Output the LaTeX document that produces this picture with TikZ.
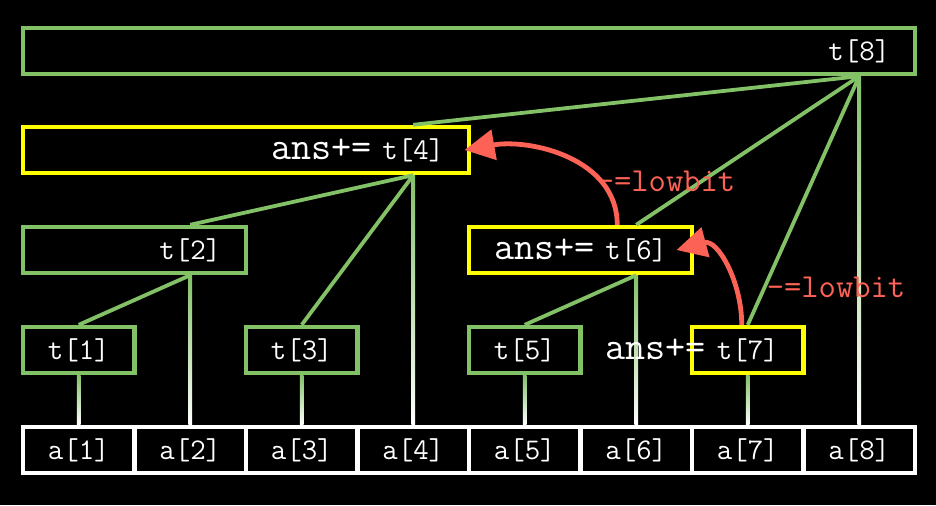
\documentclass[tikz,border=0pt]{standalone}
\usepackage{tikz}
\usetikzlibrary{arrows.meta,calc}
\definecolor{linecol}{HTML}{83C167}
\definecolor{askcol}{HTML}{FFFF00}
\definecolor{bitcol}{HTML}{FC6255}

\begin{document}
\begin{tikzpicture}[x=0.5pt,y=0.5pt,
    cell/.style={draw=white, line width=2.2pt, minimum width=55.75pt, minimum height=23pt, inner sep=0pt, text=white, font=\fontsize{15}{17}\selectfont\ttfamily},
    tbox/.style={draw=linecol, line width=2.2pt, minimum height=23pt, inner sep=0pt},
    qbox/.style={draw=askcol, line width=2.2pt, minimum height=23pt, inner sep=0pt},
    idx/.style={inner sep=0pt, text=white, font=\fontsize{15}{17}\selectfont\ttfamily},
    ans/.style={anchor=base east, inner sep=0pt, text=white, font=\fontsize{19.5}{22}\selectfont\ttfamily},
    link/.style={linecol, line width=1.9pt},
    leaf/.style={top color=linecol, bottom color=white},
    jump/.style={bitcol, line width=2.4pt, -{Triangle[length=15pt,width=15pt]}},
    bit/.style={text=bitcol, font=\fontsize{16.8}{19}\selectfont\ttfamily}]

    % Background
    \fill[black] (0,0) rectangle (936,505);

    % Array cells a[1..8]
    \node[cell] (a1) at (78.75,55) {a[1]};
    \node[cell] (a2) at (190.25,55) {a[2]};
    \node[cell] (a3) at (301.75,55) {a[3]};
    \node[cell] (a4) at (413.25,55) {a[4]};
    \node[cell] (a5) at (524.75,55) {a[5]};
    \node[cell] (a6) at (636.25,55) {a[6]};
    \node[cell] (a7) at (747.75,55) {a[7]};
    \node[cell] (a8) at (859.25,55) {a[8]};

    % Tree boxes t[1..8]
    \node[tbox, minimum width=55.75pt] (t1) at (78.75,155) {};
    \node[tbox, minimum width=55.75pt] (t3) at (301.75,155) {};
    \node[tbox, minimum width=55.75pt] (t5) at (524.75,155) {};
    \node[qbox, minimum width=55.75pt] (t7) at (747.75,155) {};
    \node[tbox, minimum width=111.5pt] (t2) at (134.5,255) {};
    \node[qbox, minimum width=111.5pt] (t6) at (580.5,255) {};
    \node[qbox, minimum width=223pt] (t4) at (246,355) {};
    \node[tbox, minimum width=446pt] (t8) at (469,454) {};

    % Box labels, at the last cell of each box
    \node[idx] (l1) at (78.75,155) {t[1]};
    \node[idx] (l2) at (190.25,255) {t[2]};
    \node[idx] (l3) at (301.75,155) {t[3]};
    \node[idx] (l4) at (413.25,355) {t[4]};
    \node[idx] (l5) at (524.75,155) {t[5]};
    \node[idx] (l6) at (636.25,255) {t[6]};
    \node[idx] (l7) at (747.75,155) {t[7]};
    \node[idx] (l8) at (859.25,454) {t[8]};

    % Green links between boxes
    \draw[link] (l8 |- t8.south) -- (l4 |- t4.north);
    \draw[link] (l8 |- t8.south) -- (l6 |- t6.north);
    \draw[link] (l8 |- t8.south) -- (l7 |- t7.north);
    \draw[link] (l4 |- t4.south) -- (l2 |- t2.north);
    \draw[link] (l4 |- t4.south) -- (l3 |- t3.north);
    \draw[link] (l2 |- t2.south) -- (l1 |- t1.north);
    \draw[link] (l6 |- t6.south) -- (l5 |- t5.north);

    % Links down to the cells, green fading to white
    \shade[leaf] ($(l1 |- t1.south)+(-0.95pt,0)$) rectangle ($(a1.north)+(0.95pt,0)$);
    \shade[leaf] ($(l2 |- t2.south)+(-0.95pt,0)$) rectangle ($(a2.north)+(0.95pt,0)$);
    \shade[leaf] ($(l3 |- t3.south)+(-0.95pt,0)$) rectangle ($(a3.north)+(0.95pt,0)$);
    \shade[leaf] ($(l4 |- t4.south)+(-0.95pt,0)$) rectangle ($(a4.north)+(0.95pt,0)$);
    \shade[leaf] ($(l5 |- t5.south)+(-0.95pt,0)$) rectangle ($(a5.north)+(0.95pt,0)$);
    \shade[leaf] ($(l6 |- t6.south)+(-0.95pt,0)$) rectangle ($(a6.north)+(0.95pt,0)$);
    \shade[leaf] ($(l7 |- t7.south)+(-0.95pt,0)$) rectangle ($(a7.north)+(0.95pt,0)$);
    \shade[leaf] ($(l8 |- t8.south)+(-0.95pt,0)$) rectangle ($(a8.north)+(0.95pt,0)$);

    % Query steps
    \node[ans] (ans7) at ($(l7.base west)+(-10,0)$) {ans+=};
    \node[ans] (ans6) at ($(l6.base west)+(-10,0)$) {ans+=};
    \node[ans] (ans4) at ($(l4.base west)+(-10,0)$) {ans+=};

    % lowbit jumps
    \draw[jump] ($(t7.north -| l7)+(-6,0)$) to[out=90,in=15,looseness=1.1] ($(l6.east)+(9,0)$);
    \draw[jump] ($(t6.north -| l6)+(-19,0)$) to[out=90,in=10] ($(l4.east)+(20,0)$);
    \node[bit] (low7) at (836,218) {-=lowbit};
    \node[bit] (low6) at (666,324) {-=lowbit};

\end{tikzpicture}
\end{document}
